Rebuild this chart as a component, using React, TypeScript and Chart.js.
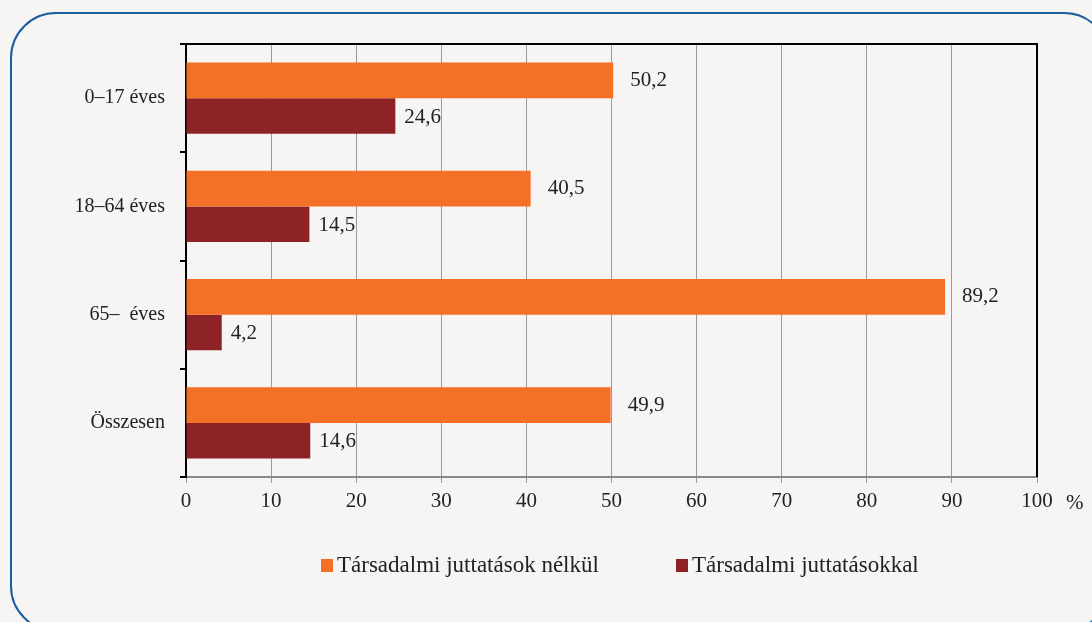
import React, { useEffect, useRef } from "react";
import { Chart, registerables } from "chart.js";

Chart.register(...registerables);

const categories = ["0–17 éves", "18–64 éves", "65–  éves", "Összesen"];
const seriesNames = ["Társadalmi juttatások nélkül", "Társadalmi juttatásokkal"];
const withoutBenefits = [50.2, 40.5, 89.2, 49.9];
const withBenefits = [24.6, 14.5, 4.2, 14.6];
const xTicks = [0, 10, 20, 30, 40, 50, 60, 70, 80, 90, 100];

const ORANGE = "#F37026";
const DARKRED = "#8D2327";
const FONT = "'Liberation Serif', 'DejaVu Serif', serif";

const fmt = (v: number) => v.toFixed(1).replace(".", ",");

export default function App() {
  const ref = useRef<HTMLCanvasElement | null>(null);

  useEffect(() => {
    document.body.style.margin = "0";
    const canvas = ref.current!;
    const overlay = {
      id: "overlay",
      afterDraw(chart: any) {
        const { ctx, chartArea } = chart;
        ctx.save();
        ctx.strokeStyle = "#000";
        ctx.lineWidth = 2;
        ctx.beginPath();
        ctx.moveTo(chartArea.left, chartArea.top);
        ctx.lineTo(chartArea.right, chartArea.top);
        ctx.lineTo(chartArea.right, chartArea.bottom);
        ctx.stroke();
        ctx.fillStyle = "#222";
        ctx.font = "21px " + FONT;
        ctx.textAlign = "left";
        ctx.textBaseline = "middle";
        ctx.fillText("%", 1066, 503);
        chart.data.datasets.forEach((ds: any, di: number) => {
          const meta = chart.getDatasetMeta(di);
          meta.data.forEach((bar: any, i: number) => {
            const off = di === 0 ? 17 : 9;
            ctx.fillText(fmt(ds.data[i]), bar.x + off, bar.y + (di === 0 ? 0 : 1));
          });
        });
        ctx.font = "23px " + FONT;
        const items = [
          { x: 321, color: ORANGE, text: seriesNames[0] },
          { x: 676, color: DARKRED, text: seriesNames[1] },
        ];
        items.forEach((it) => {
          ctx.fillStyle = it.color;
          ctx.fillRect(it.x, 559, 12, 13);
          ctx.fillStyle = "#222";
          ctx.fillText(it.text, it.x + 16, 566);
        });
        ctx.restore();
      },
    };

    const chart = new Chart(canvas, {
      type: "bar",
      data: {
        labels: categories,
        datasets: [
          { label: seriesNames[0], data: withoutBenefits, backgroundColor: ORANGE, categoryPercentage: 0.66, barPercentage: 1.0 },
          { label: seriesNames[1], data: withBenefits, backgroundColor: DARKRED, categoryPercentage: 0.66, barPercentage: 1.0 },
        ],
      },
      options: {
        indexAxis: "y",
        animation: false,
        responsive: false,
        maintainAspectRatio: false,
        layout: { padding: { left: 0, top: 44, right: 55, bottom: 0 } },
        plugins: { legend: { display: false }, tooltip: { enabled: false } },
        scales: {
          x: {
            min: 0,
            max: 100,
            afterBuildTicks: (s: any) => {
              s.ticks = xTicks.map((v) => ({ value: v }));
            },
            afterFit: (s: any) => {
              s.height = 145;
            },
            grid: { color: "#9a9a9a", lineWidth: 1, tickLength: 6, tickColor: "#9a9a9a" },
            border: { color: "#8a8a8a", width: 2 },
            ticks: { color: "#222", font: { family: FONT, size: 21 }, padding: 6 },
          },
          y: {
            afterFit: (s: any) => {
              s.width = 186;
            },
            grid: { drawOnChartArea: false, color: "#000", tickLength: 6, lineWidth: 2, offset: true },
            border: { color: "#000", width: 2 },
            ticks: { color: "#222", font: { family: FONT, size: 20 }, padding: 15 },
          },
        },
      },
      plugins: [overlay],
    });
    return () => chart.destroy();
  }, []);

  return (
    <div style={{ position: "fixed", left: 0, top: 0, width: 1092, height: 622, background: "#F6F5F3", overflow: "hidden" }}>
      <div
        style={{
          position: "absolute",
          left: 10,
          top: 12,
          width: 1100,
          height: 620,
          border: "2px solid #1B5E9F",
          borderRadius: 46,
          boxSizing: "border-box",
        }}
      />
      <canvas ref={ref} width={1092} height={622} style={{ position: "absolute", left: 0, top: 0 }} />
    </div>
  );
}
